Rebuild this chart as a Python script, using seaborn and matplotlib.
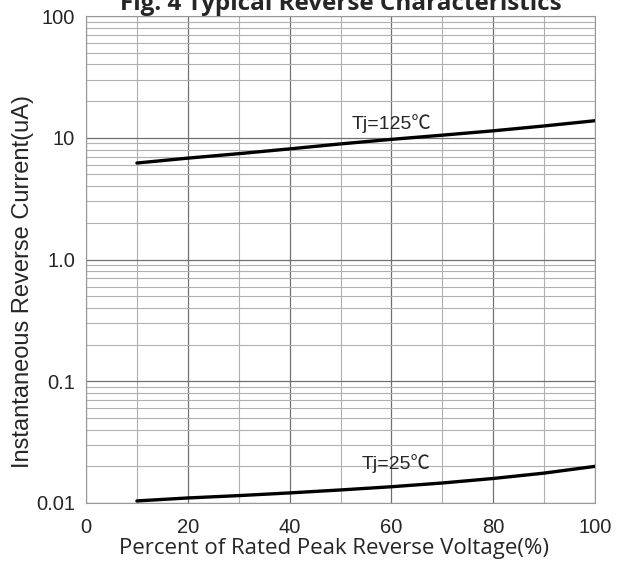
import matplotlib
matplotlib.use("Agg")
import matplotlib.pyplot as plt
import seaborn as sns
import pandas as pd
import numpy as np
from matplotlib.ticker import FixedLocator, LogLocator, NullFormatter

x_pct = [10, 20, 30, 40, 50, 60, 70, 80, 90, 100]
i_125 = [6.2, 6.8, 7.4, 8.1, 8.9, 9.7, 10.5, 11.4, 12.5, 13.8]
i_25 = [0.0104, 0.0110, 0.0115, 0.0121, 0.0128, 0.0136, 0.0146, 0.0159, 0.0176, 0.0200]
y_ticks = [0.01, 0.1, 1, 10, 100]
y_labels = ["0.01", "0.1", "1.0", "10", "100"]
x_ticks = [0, 20, 40, 60, 80, 100]

df = pd.concat([
    pd.DataFrame({"x": x_pct, "y": i_125, "s": "Tj=125℃"}),
    pd.DataFrame({"x": x_pct, "y": i_25, "s": "Tj=25℃"}),
])

sns.set_style("white")
plt.rcParams['font.family'] = ['Liberation Sans', 'DejaVu Sans']

fig = plt.figure(figsize=(6.32, 5.61), dpi=100)
ax = fig.add_axes([86/632, 1 - 503/561, (595-86)/632, (503-16)/561])
ax.set_yscale("log")
ax.set_xlim(0, 100)
ax.set_ylim(0.01, 100)

sns.lineplot(data=df, x="x", y="y", units="s", estimator=None, color="black",
             linewidth=2.4, ax=ax, legend=False)

ax.set_xticks(x_ticks)
ax.xaxis.set_minor_locator(FixedLocator(range(0, 101, 10)))
ax.set_yticks(y_ticks)
ax.set_yticklabels(y_labels)
ax.yaxis.set_minor_locator(LogLocator(base=10, subs=np.arange(2, 10)))
ax.yaxis.set_minor_formatter(NullFormatter())

ax.grid(which="minor", color="#b0b0b0", linewidth=0.8)
ax.grid(which="major", color="#707070", linewidth=0.9)
ax.tick_params(which="both", length=0, labelsize=14.5)
ax.tick_params(axis="x", pad=11)
ax.tick_params(axis="y", pad=8)
for sp in ax.spines.values():
    sp.set_color("#999999")
    sp.set_linewidth(0.8)

ax.text(60, 10.9, "Tj=125℃", fontsize=14, ha="center", va="bottom",
        family=['Liberation Sans', 'Noto Sans CJK SC', 'DejaVu Sans'])
ax.text(61, 0.0176, "Tj=25℃", fontsize=14, ha="center", va="bottom",
        family=['Liberation Sans', 'Noto Sans CJK SC', 'DejaVu Sans'])

ax.set_xlabel("Percent of Rated Peak Reverse Voltage(%)", fontsize=16,
              family=['Open Sans', 'DejaVu Sans'])
ax.xaxis.set_label_coords(0.487, -0.071)
ax.set_ylabel("Instantaneous Reverse Current(uA)", fontsize=17)
ax.yaxis.set_label_coords(-0.102, 0.455)

fig.text(341/632, 1 - 4/561, "Fig. 4 Typical Reverse Characteristics", fontsize=17.5,
         fontweight="bold", ha="center", va="center", family=['Open Sans', 'DejaVu Sans'])

fig.savefig("out.png", dpi=100, facecolor="white")
